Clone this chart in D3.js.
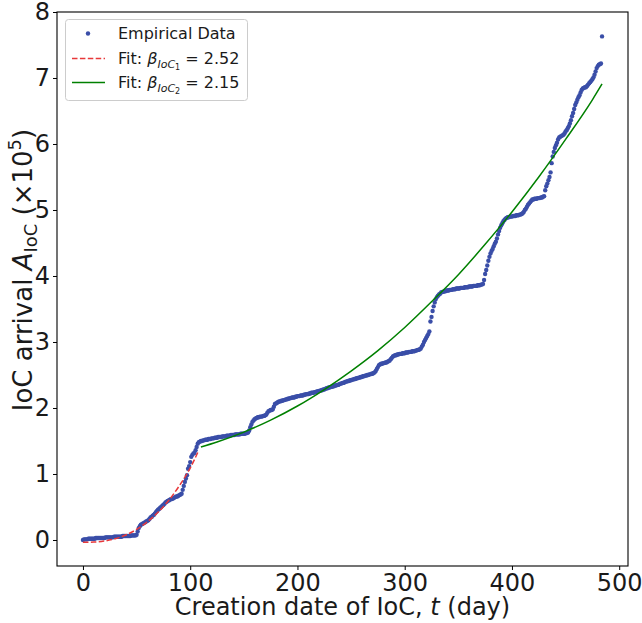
<!DOCTYPE html>
<html>
<head>
<meta charset="utf-8">
<script src="https://cdn.jsdelivr.net/npm/d3@7"></script>
<style>
body{margin:0;background:#fff}
text{font-family:"DejaVu Sans",sans-serif}
</style>
</head>
<body>
<svg id="chart" width="642" height="623"></svg>
<script>
// IoC arrivals per day (x10^5), day = index
var arrivals = [
0.00,0.01,0.01,0.01,0.01,0.02,0.02,0.02,0.02,0.02,
0.02,0.02,0.03,0.03,0.03,0.03,0.03,0.03,0.03,0.03,
0.03,0.04,0.04,0.04,0.04,0.04,0.04,0.04,0.04,0.05,
0.05,0.05,0.05,0.05,0.05,0.05,0.05,0.06,0.06,0.06,
0.06,0.06,0.06,0.06,0.06,0.07,0.07,0.07,0.07,0.07,
0.08,0.13,0.18,0.21,0.23,0.24,0.25,0.26,0.27,0.28,
0.29,0.30,0.32,0.34,0.35,0.37,0.38,0.40,0.42,0.44,
0.46,0.47,0.49,0.50,0.52,0.53,0.55,0.57,0.58,0.59,
0.60,0.61,0.62,0.62,0.63,0.64,0.65,0.66,0.66,0.67,
0.68,0.69,0.70,0.76,0.82,0.88,0.93,0.98,1.08,1.12,
1.18,1.26,1.29,1.31,1.32,1.36,1.41,1.46,1.48,1.49,
1.50,1.50,1.51,1.51,1.52,1.52,1.52,1.53,1.53,1.53,
1.54,1.54,1.54,1.55,1.55,1.55,1.56,1.56,1.56,1.56,
1.57,1.57,1.57,1.57,1.58,1.58,1.58,1.58,1.59,1.59,
1.59,1.59,1.60,1.60,1.60,1.60,1.60,1.61,1.61,1.61,
1.61,1.61,1.62,1.62,1.63,1.66,1.71,1.75,1.79,1.81,
1.83,1.84,1.85,1.86,1.86,1.87,1.87,1.87,1.88,1.88,
1.89,1.90,1.93,1.95,1.96,1.97,1.97,1.98,2.02,2.06,
2.07,2.08,2.09,2.10,2.10,2.11,2.11,2.12,2.12,2.13,
2.13,2.14,2.14,2.15,2.15,2.16,2.16,2.16,2.17,2.17,
2.18,2.18,2.18,2.19,2.19,2.19,2.20,2.20,2.21,2.21,
2.21,2.22,2.22,2.23,2.23,2.23,2.24,2.24,2.25,2.25,
2.26,2.26,2.27,2.27,2.28,2.28,2.29,2.30,2.30,2.31,
2.31,2.32,2.32,2.33,2.33,2.34,2.34,2.35,2.35,2.36,
2.37,2.37,2.38,2.38,2.39,2.40,2.40,2.41,2.41,2.42,
2.42,2.43,2.43,2.44,2.44,2.45,2.45,2.46,2.46,2.47,
2.47,2.48,2.48,2.49,2.49,2.50,2.50,2.51,2.51,2.52,
2.52,2.53,2.54,2.56,2.59,2.62,2.65,2.66,2.67,2.67,
2.68,2.68,2.69,2.69,2.70,2.71,2.72,2.74,2.76,2.78,
2.79,2.80,2.80,2.81,2.81,2.82,2.82,2.82,2.83,2.83,
2.83,2.84,2.84,2.84,2.85,2.85,2.85,2.86,2.86,2.86,
2.87,2.87,2.88,2.88,2.89,2.90,2.93,2.96,3.00,3.03,
3.06,3.09,3.12,3.16,3.31,3.38,3.47,3.54,3.60,3.65,
3.68,3.70,3.72,3.73,3.75,3.76,3.76,3.77,3.77,3.78,
3.78,3.78,3.79,3.79,3.79,3.80,3.80,3.80,3.81,3.81,
3.81,3.81,3.82,3.82,3.82,3.82,3.83,3.83,3.83,3.83,
3.84,3.84,3.84,3.84,3.85,3.85,3.85,3.85,3.86,3.86,
3.86,3.87,3.87,3.88,3.94,4.03,4.09,4.16,4.23,4.29,
4.34,4.38,4.41,4.45,4.49,4.52,4.57,4.63,4.68,4.73,
4.77,4.80,4.83,4.85,4.87,4.88,4.89,4.89,4.90,4.90,
4.90,4.91,4.91,4.91,4.92,4.92,4.92,4.93,4.93,4.94,
4.95,4.97,5.00,5.02,5.05,5.08,5.10,5.12,5.14,5.16,
5.16,5.17,5.17,5.17,5.18,5.18,5.18,5.19,5.19,5.20,
5.21,5.30,5.36,5.40,5.45,5.50,5.57,5.71,5.81,5.88,
5.94,5.98,6.02,6.07,6.10,6.11,6.12,6.13,6.14,6.16,
6.19,6.21,6.24,6.27,6.31,6.36,6.42,6.47,6.53,6.59,
6.63,6.67,6.71,6.74,6.78,6.82,6.84,6.85,6.86,6.86,
6.88,6.90,6.92,6.94,6.96,6.98,7.01,7.05,7.10,7.15,
7.18,7.20,7.21,7.22,7.63
];

// fitted curves
var fit1Days = [0,10,20,30,40,50,60,70,80,90,100,108];
var fit1Vals = [-0.035,-0.032,-0.016,0.02,0.076,0.16,0.275,0.42,0.6,0.825,1.09,1.36];
var fit2Days = [110,125,150,175,200,225,250,275,300,325,350,375,400,425,450,475,484];
var fit2Vals = [1.41,1.485,1.635,1.816,2.03,2.28,2.56,2.87,3.22,3.61,4.02,4.48,4.97,5.50,6.07,6.67,6.91];

var xTicks = [0,100,200,300,400,500];
var yTicks = [0,1,2,3,4,5,6,7,8];

var svg = d3.select('#chart');
var pLeft = 57, pRight = 628, pTop = 12, pBottom = 566;

var x = d3.scaleLinear().domain([-24.2, 508.2]).range([pLeft, pRight]);
var y = d3.scaleLinear().domain([-0.394, 8.0]).range([pBottom, pTop]);

// axes
var xAxis = svg.append('g')
	.attr('transform', 'translate(0,' + pBottom + ')')
	.call(d3.axisBottom(x).tickValues(xTicks).tickSize(4).tickPadding(3.5).tickFormat(d3.format('d')));
var yAxis = svg.append('g')
	.attr('transform', 'translate(' + pLeft + ',0)')
	.call(d3.axisLeft(y).tickValues(yTicks).tickSize(4).tickPadding(3).tickFormat(d3.format('d')));
[xAxis, yAxis].forEach(function(g){
	g.select('.domain').remove();
	g.selectAll('line').attr('stroke', '#000').attr('stroke-width', 1);
	g.selectAll('text').attr('font-family', '"DejaVu Sans",sans-serif').attr('font-size', 24).attr('fill', '#1a1a1a');
});

// data points
svg.append('g').selectAll('circle')
	.data(arrivals).enter()
	.append('circle')
	.attr('cx', function(d, i){ return x(i); })
	.attr('cy', function(d){ return y(d); })
	.attr('r', 2.2)
	.attr('fill', '#3a4ea8');

var line = d3.line()
	.x(function(d){ return x(d[0]); })
	.y(function(d){ return y(d[1]); })
	.curve(d3.curveMonotoneX);

svg.append('path')
	.datum(d3.zip(fit1Days, fit1Vals))
	.attr('d', line)
	.attr('fill', 'none')
	.attr('stroke', '#e8383a')
	.attr('stroke-width', 1.5)
	.attr('stroke-dasharray', '5.5,2.4');

svg.append('path')
	.datum(d3.zip(fit2Days, fit2Vals))
	.attr('d', line)
	.attr('fill', 'none')
	.attr('stroke', 'green')
	.attr('stroke-width', 1.5);

// frame
svg.append('rect')
	.attr('x', pLeft).attr('y', pTop)
	.attr('width', pRight - pLeft).attr('height', pBottom - pTop)
	.attr('fill', 'none').attr('stroke', '#000').attr('stroke-width', 1.1);

// axis labels
svg.append('text')
	.attr('x', (pLeft + pRight) / 2).attr('y', 615)
	.attr('text-anchor', 'middle').attr('font-size', 24).attr('fill', '#1a1a1a')
	.html('Creation date of IoC, <tspan font-style="italic">t</tspan> (day)');

svg.append('text')
	.attr('transform', 'translate(32,270) rotate(-90)')
	.attr('text-anchor', 'middle').attr('font-size', 26).attr('fill', '#1a1a1a')
	.html('IoC arrival <tspan font-style="italic">A</tspan><tspan font-size="18" dy="5">IoC</tspan>'
		+ '<tspan dy="-5">  (×10</tspan><tspan font-size="18" dy="-11">5</tspan><tspan dy="11">)</tspan>');

// legend
var lg = svg.append('g');
lg.append('rect')
	.attr('x', 65.5).attr('y', 19.5).attr('width', 182).attr('height', 81).attr('rx', 3)
	.attr('fill', '#fff').attr('fill-opacity', 0.8).attr('stroke', '#cccccc');
lg.append('circle').attr('cx', 88).attr('cy', 33.5).attr('r', 2.2).attr('fill', '#3a4ea8');
lg.append('line').attr('x1', 72).attr('x2', 105).attr('y1', 58.5).attr('y2', 58.5)
	.attr('stroke', '#e8383a').attr('stroke-width', 1.5).attr('stroke-dasharray', '5.5,2.4');
lg.append('line').attr('x1', 72).attr('x2', 105).attr('y1', 82.5).attr('y2', 82.5)
	.attr('stroke', 'green').attr('stroke-width', 1.5);

var legendRows = [
	{y: 39, html: 'Empirical Data'},
	{y: 64, html: 'Fit: <tspan font-style="italic">β</tspan><tspan font-style="italic" font-size="11" dy="4">IoC</tspan><tspan font-size="8" dy="2">1</tspan><tspan dy="-6"> = 2.52</tspan>'},
	{y: 88, html: 'Fit: <tspan font-style="italic">β</tspan><tspan font-style="italic" font-size="11" dy="4">IoC</tspan><tspan font-size="8" dy="2">2</tspan><tspan dy="-6"> = 2.15</tspan>'}
];
lg.selectAll('text.lab')
	.data(legendRows).enter()
	.append('text')
	.attr('class', 'lab')
	.attr('x', 118).attr('y', function(d){ return d.y; })
	.attr('font-size', 16).attr('fill', '#1a1a1a')
	.html(function(d){ return d.html; });
</script>
</body>
</html>
